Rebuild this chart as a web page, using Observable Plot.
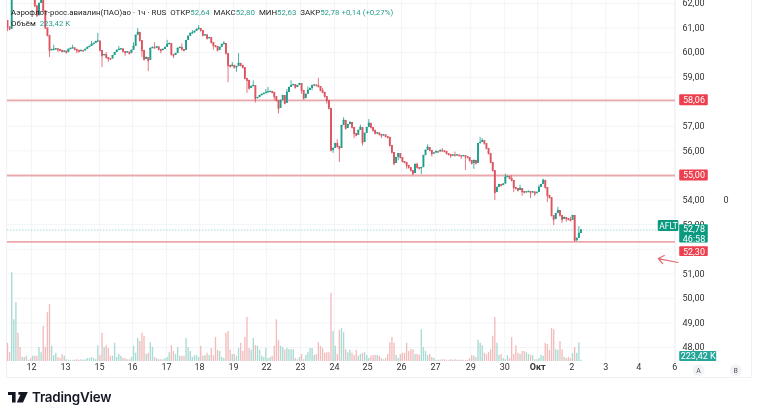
<!DOCTYPE html>
<html><head><meta charset="utf-8">
<script src="https://cdn.jsdelivr.net/npm/d3@7"></script>
<script src="https://cdn.jsdelivr.net/npm/@observablehq/plot@0.6"></script>
<style>
html,body{margin:0;padding:0;background:#fff;width:758px;height:417px;overflow:hidden;font-family:Roboto,sans-serif}
#wrap{position:relative;width:758px;height:417px;filter:blur(.35px)}
#wrap svg.pl{position:absolute;left:0;top:0;background:transparent;overflow:visible}
#frame{position:absolute;left:6px;top:-2px;width:746px;height:380px;border:1px solid #f0f1f4;box-sizing:border-box}
#head{position:absolute;left:11px;top:7px;font-size:7.9px;line-height:11px;color:#222;white-space:pre}
#head b{font-weight:400;color:#2a9d8f}
#foot{position:absolute;left:8px;top:389px;display:flex;align-items:center;gap:4px;font:600 13.4px Inter,Roboto,sans-serif;color:#131722;letter-spacing:-.2px}
</style></head><body><div id="wrap"><div id="frame"></div></div>
<script>
const firstOpen = 61.3;
const closes = [
61.05,60.95,62.5,62.7,62.9,62.6,62.5,62.7,62.6,62.9,63.0,62.8,62.9,61.9,61.5,62.0,62.3,61.7,61.0,60.7,60.09,
60.12,60.13,60.15,60.13,60.09,60.04,60.06,60.0,60.13,60.17,60.19,60.13,60.09,60.04,60.09,60.07,60.13,60.21,60.25,60.33,60.37,60.45,60.47,
60.09,59.88,59.92,59.8,59.76,59.74,59.88,60.0,60.09,60.13,60.15,60.04,60.0,60.02,59.96,60.09,60.25,
60.7,60.82,60.49,60.09,59.72,59.8,59.68,60.17,60.21,60.19,60.23,60.13,60.09,60.13,60.21,60.33,60.37,59.92,59.88,59.96,
60.17,60.21,60.13,60.09,60.49,60.66,60.78,60.8,60.86,60.94,60.98,60.9,60.7,60.72,60.57,60.61,60.41,60.29,60.25,60.09,
60.21,60.33,60.37,59.96,59.48,59.43,59.48,59.39,59.43,59.56,59.48,59.39,
58.95,58.87,58.54,58.62,58.66,58.13,58.17,58.25,58.3,58.34,58.38,58.4,58.42,58.38,58.21,58.05,57.73,58.05,
58.25,57.93,58.38,58.58,58.66,58.7,58.58,58.66,58.74,58.46,58.13,58.3,58.46,58.54,58.66,58.68,58.66,58.62,58.46,58.38,58.21,58.05,57.73,
56.02,56.1,56.3,56.18,56.1,57.03,57.24,56.91,57.07,57.16,56.95,56.71,56.63,56.83,56.95,56.34,56.71,
56.95,57.12,56.95,56.83,56.71,56.73,56.67,56.63,56.65,56.59,56.55,56.22,55.93,55.49,55.73,55.89,55.73,55.57,55.53,55.41,
55.32,55.2,55.08,55.45,55.32,55.28,55.32,55.81,56.02,56.14,56.02,55.89,55.91,55.98,55.96,56.02,56.0,55.98,55.89,55.85,
55.81,55.83,55.81,55.83,55.81,55.79,55.81,55.77,55.73,55.61,55.49,55.61,55.49,
56.3,56.34,56.42,56.3,56.1,55.89,55.53,55.2,54.31,54.51,54.63,54.59,54.65,54.92,54.96,54.88,54.8,
54.51,54.47,54.39,54.47,54.35,54.31,54.33,54.35,54.31,54.33,54.27,54.31,54.51,54.63,54.8,
54.51,54.19,54.1,53.37,53.21,53.45,53.57,53.37,53.21,53.29,53.25,53.21,53.17,53.37,52.35,52.44,52.64,52.78];
const highWicks = [[2,63.0],[13,62.1],[22,60.3],[31,60.3],[40,60.45],[43,60.78],[47,60.0],[53,60.25],[60,60.4],[62,60.98],[70,60.4],[76,60.5],[83,60.35],[88,60.9],[91,61.1],[95,60.7],[103,60.45],[107,59.6],[110,59.96],[117,58.85],[123,58.5],[124,58.58],[133,58.5],[135,58.85],[140,58.7],[143,58.6],[148,58.95],[150,58.55],[157,56.45],[160,57.35],[164,57.1],[168,57.05],[172,57.28],[175,56.85],[187,55.85],[195,55.5],[200,56.25],[207,56.1],[213,55.95],[225,56.55],[226,56.5],[228,56.2],[237,55.05],[240,55.0],[244,54.6],[253,54.6],[255,54.85],[262,53.7],[268,53.3],[272,52.92]];
const lowWicks = [[0,60.85],[20,59.8],[24,60.0],[33,59.95],[45,59.39],[48,59.6],[56,59.85],[64,59.8],[67,59.23],[73,59.95],[79,59.75],[98,60.1],[105,58.78],[109,59.2],[114,58.34],[118,57.95],[127,58.05],[129,57.5],[140,58.3],[145,58.45],[152,57.9],[155,55.9],[158,55.53],[165,56.5],[169,56.2],[178,56.5],[184,55.4],[186,55.6],[190,55.25],[193,55.0],[197,55.04],[202,55.75],[211,55.7],[216,55.65],[218,55.2],[222,55.25],[232,53.98],[233,54.3],[241,54.3],[245,54.15],[249,54.06],[251,54.15],[257,53.9],[260,52.96],[261,53.2],[264,53.05],[266,53.1],[269,53.2],[271,52.3]];
const volumes = [
3.1,1.5,15.1,7.1,10,4.8,2.4,.7,.7,.9,.2,.5,.9,.9,.9,2.4,1.5,6,2.4,8.3,9.7,
2.6,1,1.4,.7,.5,1.2,.9,.3,.2,.2,.2,.2,.3,.2,.3,.2,.3,.5,.5,.7,.5,.3,2.7,
1,4.8,2.4,2.7,2.2,.9,.9,3.1,.7,1.2,.9,.5,.5,.3,.3,.7,2.6,1.4,3.9,3.4,4.8,4.3,
1.2,1.4,3.2,2.4,.7,.5,.3,.3,.3,.5,.7,1.5,2.7,1.7,1.2,2.4,.9,.9,.9,3.9,2.4,1.7,.7,1,1,.7,2.6,.9,1,1.4,1,2.2,1,4.1,1.9,1.7,.7,.5,4.8,5.1,1.9,1.2,1.2,.9,2.2,3.1,1.7,4.1,7.5,2.2,1.9,3.9,2.7,2.6,1.9,.9,.7,2.2,.5,.7,.9,2.6,7.1,3.6,2.6,2.4,1.9,2.2,2,
2,2,.5,.3,.7,1.2,.3,1,1.5,2.2,2.2,1,1.2,3.2,2.6,2.2,1.4,1.5,1.5,
11.6,5.1,2.6,1.2,5.3,5.6,4.9,2,1.5,1.9,1.4,1,1.9,.9,1.2,1.4,1.5,1,.5,.9,1,1,1,.9,.5,.3,.5,1.2,3.2,4.1,3.1,1,.5,1.2,1.4,1.4,3.1,1.7,2,2,1.2,1.2,1,5.4,2.4,1.7,1,1.2,.7,.5,.2,
.2,.2,.3,.3,.2,.2,.3,.2,.3,.2,.2,.2,.2,.2,.2,
.5,1,.9,.7,3.6,3.1,2.7,1.4,1.2,1.5,2,4.3,7.5,3.1,1,1.2,.5,.3,1,.5,4.1,1.2,2.7,1.4,1.2,1.7,1.7,1.5,1.2,1,1,.3,.3,.5,1,.9,3.1,2.9,1.9,5.6,5.4,2,1.9,3.4,2,.7,.5,.7,.5,1.4,2.4,1.4,3.2,.22];
const dayPositions = [11.4,27.6,43.8,59.5,75.7,91.4,107.6,123.3,139.5,155.7,171.4,187.6,203.8,220.5,236.7,252.4,268.6,284.8,300.5,317.6];
const dayLabels = ["12","13","15","16","17","18","19","22","23","24","25","26","27","29","30","Окт","2","3","4","6"];
const gridPrices = [62,61,60,59,58,57,56,55,54,53,52,51,50,49,48];
const priceTicks = [62,61,60,59,57,56,54,53,51,50,49,48];
const levels = [58.06,55.00,52.30];
const lastPrice = 52.78;
const ticker = "AFLT";
const countdown = "46:58";
const lastVolume = "223,42 K";
const headerName = "Аэрофлот-росс.авиалин(ПАО)ао · 1ч · RUS";
const arrowFrom = [319.2,51.46], arrowTo = [309.8,51.62];

const UP="#1f9e8c", DOWN="#dc5560", UPV="#a9dad3", DOWNV="#f3bcbc", LEVEL="#eba9ae", GRID="#f3f4f7", BADGE="#ee3f4e", GREEN="#0b9a80";
const comma = v => v.toFixed(2).replace(".",",");
const hi = new Map(highWicks), lo = new Map(lowWicks);
const bars = closes.map((c,i)=>{
  const o = i? closes[i-1] : firstOpen;
  return {i,o,c,h:Math.max(o,c,hi.get(i)??0),l:Math.min(o,c,lo.get(i)??99),v:volumes[i],up:c>=o};
});
const color = d => d.up?UP:DOWN;
const badge = (label, center, half, fill, x1=320, x2=333.6) => [
  Plot.rect([0],{x1,x2,y1:center-half,y2:center+half,fill,rx:1}),
  Plot.text([label],{x:(x1+x2)/2,y:center,text:d=>d,fill:"#fff",fontSize:9})
];

const price = Plot.plot({
  width:758,height:362,marginLeft:7,marginRight:83,marginTop:0,marginBottom:0,
  style:{fontFamily:"Roboto,sans-serif",background:"transparent"},className:"p",
  x:{domain:[0,318],range:[7,675],axis:null},
  y:{domain:[47.39,62.12],range:[362,0]},
  marks:[
    Plot.gridX(dayPositions,{stroke:GRID,strokeOpacity:1}),
    Plot.gridY(gridPrices,{stroke:GRID,strokeOpacity:1}),
    Plot.ruleX([318],{stroke:GRID}),
    Plot.axisY(priceTicks,{anchor:"right",tickSize:0,tickPadding:7,textAnchor:"start",tickFormat:comma,fontSize:9,fill:"#333",label:null}),
    Plot.ruleY([lastPrice],{x2:310,stroke:"#8fd0c6",strokeWidth:.8,strokeDasharray:"1.5,1.5"}),
    Plot.ruleY(levels,{stroke:LEVEL,strokeWidth:1.8}),
    Plot.ruleX(bars,{x:"i",y1:"l",y2:"h",stroke:color,strokeWidth:.8,clip:true}),
    Plot.ruleX(bars,{x:"i",y1:"o",y2:"c",stroke:color,strokeWidth:1.9,clip:true}),
    Plot.dot(bars,{x:"i",y:"c",r:.9,fill:color,stroke:"none",clip:true}),
    Plot.text(["0"],{x:342,y:54,text:d=>d,fontSize:9,fill:"#333"}),
    Plot.arrow([0],{x1:arrowFrom[0],y1:arrowFrom[1],x2:arrowTo[0],y2:arrowTo[1],stroke:"#df6a74",strokeWidth:1.2,bend:0,headLength:11,headAngle:75,insetEnd:0}),
    ...badge(comma(levels[0]),levels[0],.225,BADGE),
    ...badge(comma(levels[1]),levels[1],.225,BADGE),
    ...badge(comma(levels[2]),51.9,.2,BADGE),
    Plot.rect([0],{x1:309.8,x2:319.6,y1:52.72,y2:53.17,fill:GREEN,rx:1}),
    Plot.text([ticker],{x:314.7,y:52.93,text:d=>d,fill:"#fff",fontSize:8.4}),
    Plot.rect([0],{x1:320,x2:333.6,y1:52.25,y2:53.0,fill:GREEN,rx:1}),
    Plot.text([comma(lastPrice)],{x:326.8,y:52.8,text:d=>d,fill:"#fff",fontSize:9}),
    Plot.text([countdown],{x:326.8,y:52.43,text:d=>d,fill:"#fff",fontSize:9})
  ]
});
const vol = Plot.plot({
  width:758,height:378,marginLeft:7,marginRight:83,marginTop:0,marginBottom:17,
  style:{fontFamily:"Roboto,sans-serif",background:"transparent"},className:"v",
  x:{domain:[0,318],range:[7,675],axis:null},
  y:{domain:[0,61.4],range:[361,0],axis:null},
  marks:[
    Plot.axisX(dayPositions,{anchor:"bottom",tickSize:0,tickPadding:2,fontSize:9,fill:"#333",label:null,
      tickFormat:d=>dayLabels[dayPositions.indexOf(d)]}),
    Plot.ruleX(bars,{x:"i",y:"v",stroke:d=>d.up?UPV:DOWNV,strokeWidth:1.35}),
    Plot.rect([0],{x1:320,x2:337.6,y1:0,y2:1.7,fill:"#26a69a",rx:1}),
    Plot.text([lastVolume],{x:328.8,y:.85,text:d=>d,fill:"#fff",fontSize:9}),
    Plot.dot(["A","B"],{x:d=>d==="A"?329:346.7,y:-1.55,r:6,fill:"#f1f3f6",stroke:"none"}),
    Plot.text(["A","B"],{x:d=>d==="A"?329:346.7,y:-1.55,text:d=>d,fontSize:7,fill:"#555"})
  ]
});
[price,vol].forEach(s=>s.classList.add("pl"));
const wrap=document.getElementById("wrap");
wrap.append(price,vol);
d3.select(vol).selectAll("text").filter(function(){return this.textContent==="Окт"}).attr("font-weight",700);
const head=document.createElement("div");head.id="head";
head.innerHTML=`${headerName}  ОТКР<b>${comma(52.64)}</b>  МАКС<b>${comma(52.80)}</b>  МИН<b>${comma(52.63)}</b>  ЗАКР<b>${comma(52.78)}</b> <b>+0,14 (+0,27%)</b>\nОбъём  <b>${lastVolume}</b>`;
wrap.append(head);
const foot=document.createElement("div");foot.id="foot";
foot.innerHTML=`<span style="display:inline-block;width:20px;height:11px;background:#131722;clip-path:polygon(0 0,38% 0,38% 100%,20% 100%,20% 32%,0 32%,0 0,50% 0,50% 0,100% 0,75% 100%,44% 100%,62% 30%,52% 30%,52% 0)"></span><span>TradingView</span>`;
wrap.append(foot);
</script></body></html>
